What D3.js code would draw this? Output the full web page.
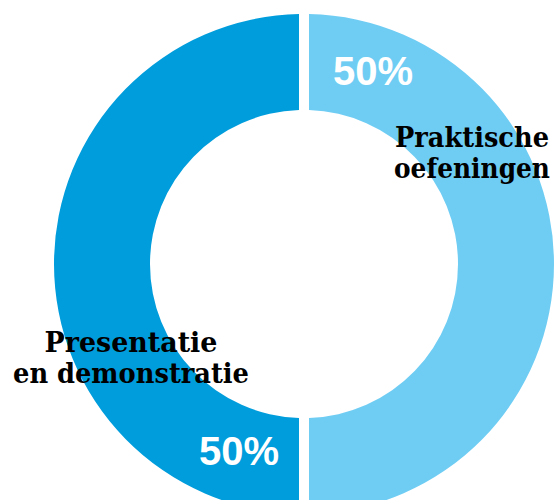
<!DOCTYPE html>
<html>
<head>
<meta charset="utf-8">
<script src="https://cdn.jsdelivr.net/npm/d3@7"></script>
<style>
  body { margin: 0; background: #fff; }
</style>
</head>
<body>
<div id="donut"></div>
<script>
// data
const categories = ["Praktische oefeningen", "Presentatie en demonstratie"];
const values = [50, 50];
const valueLabels = ["50%", "50%"];
const labelLines = [["Praktische", "oefeningen"], ["Presentatie", "en demonstratie"]];
const colors = ["#6fcdf4", "#009ddc"];

// dimensions
const width = 558, height = 500;
const cx = 304, cy = 264;
const outerR = 250, innerR = 154;
const gap = 10;

const svg = d3.select("#donut")
  .append("svg")
    .attr("width", width)
    .attr("height", height);

const g = svg.append("g")
  .attr("transform", `translate(${cx},${cy})`);

const pie = d3.pie()
  .sort(null)
  .padAngle(gap / outerR)
  .value(d => d);

const arc = d3.arc()
  .innerRadius(innerR)
  .outerRadius(outerR)
  .padRadius(outerR);

const arcs = pie(values);

g.selectAll("path.slice")
  .data(arcs)
  .enter().append("path")
    .attr("class", "slice")
    .attr("fill", (d, i) => colors[i])
    .attr("d", arc);

// percentage labels (near the gap, top right and bottom left)
const pctPos = [[69, -179], [-65, 201]];
g.selectAll("text.pct")
  .data(arcs)
  .enter().append("text")
    .attr("class", "pct")
    .attr("x", (d, i) => pctPos[i][0])
    .attr("y", (d, i) => pctPos[i][1])
    .attr("text-anchor", "middle")
    .attr("font-family", "Liberation Sans, Arial, sans-serif")
    .attr("font-weight", "bold")
    .attr("font-size", "40px")
    .attr("fill", "#fff")
    .text((d, i) => valueLabels[i]);

// category labels, squeezed horizontally to the reference widths
const catPos = [[168, -117], [-173, 88]];
const lineLens = [[154, 156], [173, 236]];
arcs.forEach((d, i) => {
  labelLines[i].forEach((line, j) => {
    const t = g.append("text")
      .attr("text-anchor", "middle")
      .attr("font-family", "DejaVu Serif, serif")
      .attr("font-weight", "bold")
      .attr("font-size", "28px")
      .attr("fill", "#000")
      .text(line);
    const w = t.node().getComputedTextLength();
    const sx = lineLens[i][j] / w;
    t.attr("transform",
      `translate(${catPos[i][0]},${catPos[i][1] + j * 31}) scale(${sx},1)`);
  });
});
</script>
</body>
</html>
